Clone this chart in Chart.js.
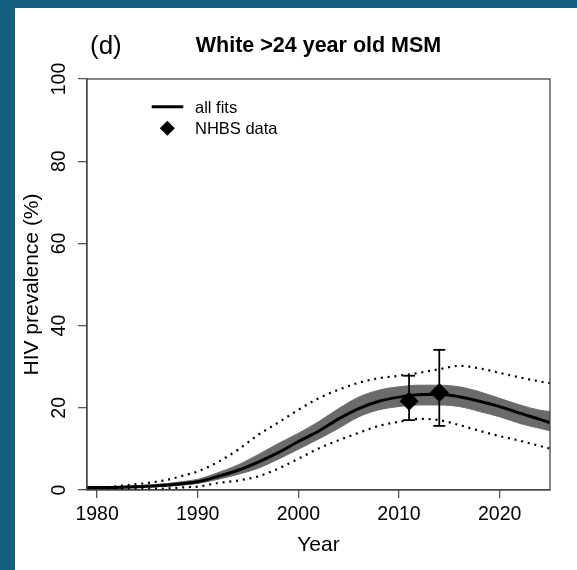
<!DOCTYPE html>
<html>
<head>
<meta charset="utf-8">
<title>White &gt;24 year old MSM</title>
<script src="https://cdn.jsdelivr.net/npm/chart.js@4.4.1/dist/chart.umd.min.js"></script>
<style>
  html, body { margin: 0; padding: 0; }
  body { background: #15607f; width: 577px; height: 570px; overflow: hidden; position: relative; }
  #panel { position: absolute; left: 15px; top: 8px; width: 562px; height: 562px; background: #fff; }
</style>
</head>
<body>
<div id="panel"><canvas id="prevChart" width="562" height="562"></canvas></div>
<script>
// model fit years and values (HIV prevalence, %)
const years      = [1979, 1981, 1983, 1985, 1987, 1989, 1990, 1992, 1994, 1996, 1998, 2000, 2002, 2004, 2006, 2008, 2010, 2012, 2014, 2016, 2018, 2020, 2022, 2024, 2025];
const fitMedian  = [0.6, 0.6, 0.7, 0.9, 1.2, 1.7, 2.0, 3.3, 4.8, 6.8, 9.1, 11.8, 14.3, 17.3, 19.8, 21.6, 22.6, 23.2, 23.3, 22.7, 21.6, 20.3, 18.7, 17.2, 16.4];
const bandUpper  = [0.8, 0.8, 0.9, 1.2, 1.6, 2.2, 2.6, 4.2, 6.1, 8.6, 11.3, 13.8, 16.6, 19.8, 22.6, 24.3, 25.1, 25.5, 25.5, 25.1, 23.9, 22.3, 20.7, 19.4, 19.1];
const bandLower  = [0.4, 0.4, 0.5, 0.7, 0.9, 1.3, 1.6, 2.6, 3.8, 5.3, 7.5, 9.9, 12.4, 15.0, 17.8, 19.5, 20.3, 20.7, 20.7, 20.3, 19.1, 17.8, 16.2, 15.0, 14.4];
const rangeUpper = [0.6, 0.7, 1.2, 1.7, 2.5, 3.8, 4.5, 6.8, 9.8, 13.4, 16.4, 19.5, 22.3, 24.4, 26.1, 27.2, 27.8, 28.5, 29.4, 30.2, 29.6, 28.5, 27.4, 26.4, 26.0];
const rangeLower = [0.2, 0.2, 0.2, 0.3, 0.4, 0.7, 0.8, 1.7, 2.3, 3.3, 5.2, 7.6, 10.1, 12.1, 13.9, 15.6, 16.6, 17.3, 17.0, 15.8, 14.4, 13.1, 12.0, 10.7, 10.1];

// NHBS survey points with error bars
const nhbsYears  = [2011, 2014];
const nhbsValues = [21.6, 23.7];
const nhbsLow    = [17.0, 15.6];
const nhbsHigh   = [27.8, 34.1];

const bandColor = '#6b6b6b';
const axisColor = '#555';
const fontFamily = '"Liberation Sans", Arial, sans-serif';

Chart.defaults.font.family = fontFamily;
Chart.defaults.color = '#000';

function toPoints(xs, ys) {
    return xs.map((x, i) => ({ x: x, y: ys[i] }));
}

const datasets = [];

datasets.push({
    label: 'NHBS data',
    data: toPoints(nhbsYears, nhbsValues),
    showLine: false,
    pointStyle: 'rectRot',
    pointRadius: 9,
    pointBackgroundColor: '#000',
    pointBorderColor: '#000',
    order: 0
});

for (let i = 0; i < nhbsYears.length; i++) {
    datasets.push({
        label: 'errbar',
        data: [{ x: nhbsYears[i], y: nhbsLow[i] }, { x: nhbsYears[i], y: nhbsHigh[i] }],
        borderColor: '#000',
        borderWidth: 1.8,
        pointStyle: 'line',
        pointRadius: 6,
        pointBorderWidth: 1.8,
        pointBorderColor: '#000',
        order: 1
    });
}

datasets.push({
    label: 'all fits',
    data: toPoints(years, fitMedian),
    borderColor: '#000',
    borderWidth: 3,
    pointRadius: 0,
    cubicInterpolationMode: 'monotone',
    order: 2
});

// band: upper fills down to the next dataset (lower)
datasets.push({
    label: 'band upper',
    data: toPoints(years, bandUpper),
    borderColor: bandColor,
    borderWidth: 1,
    backgroundColor: bandColor,
    pointRadius: 0,
    fill: '+1',
    cubicInterpolationMode: 'monotone',
    order: 4
});
datasets.push({
    label: 'band lower',
    data: toPoints(years, bandLower),
    borderColor: bandColor,
    borderWidth: 1,
    pointRadius: 0,
    fill: false,
    cubicInterpolationMode: 'monotone',
    order: 4
});

[rangeUpper, rangeLower].forEach(function (vals) {
    datasets.push({
        label: 'range',
        data: toPoints(years, vals),
        borderColor: '#000',
        borderWidth: 2.2,
        borderDash: [2, 4.8],
        borderCapStyle: 'butt',
        pointRadius: 0,
        fill: false,
        cubicInterpolationMode: 'monotone',
        order: 3
    });
});

// box, title, panel letter and legend drawn inside the plot
const decor = {
    id: 'decor',
    afterDraw: function (chart) {
        const ctx = chart.ctx;
        const a = chart.chartArea;
        ctx.save();
        ctx.strokeStyle = '#444';
        ctx.lineWidth = 1.3;
        ctx.strokeRect(a.left, a.top, a.right - a.left, a.bottom - a.top);

        ctx.fillStyle = '#000';
        ctx.textBaseline = 'alphabetic';
        ctx.textAlign = 'center';
        ctx.font = 'bold 21.5px ' + fontFamily;
        ctx.fillText('White >24 year old MSM', (a.left + a.right) / 2, 43.7);
        ctx.textAlign = 'left';
        ctx.font = '26px ' + fontFamily;
        ctx.fillText('(d)', 75, 46);

        // legend
        const lx = a.left + 64.7, ly = a.top + 27.7;
        ctx.lineWidth = 3;
        ctx.strokeStyle = '#000';
        ctx.beginPath();
        ctx.moveTo(lx, ly);
        ctx.lineTo(lx + 31.6, ly);
        ctx.stroke();
        const dx = lx + 15.6, dy = ly + 21.6, r = 7.5;
        ctx.beginPath();
        ctx.moveTo(dx, dy - r);
        ctx.lineTo(dx + r, dy);
        ctx.lineTo(dx, dy + r);
        ctx.lineTo(dx - r, dy);
        ctx.closePath();
        ctx.fill();
        ctx.font = '16.5px ' + fontFamily;
        ctx.textBaseline = 'middle';
        ctx.fillText(chart.data.datasets[nhbsYears.length + 1].label, lx + 43.3, ly + 1.3);
        ctx.fillText(chart.data.datasets[0].label, lx + 43.3, ly + 22.6);
        ctx.restore();
    }
};

const ctx = document.getElementById('prevChart').getContext('2d');
const prevChart = new Chart(ctx, {
    type: 'line',
    data: { datasets: datasets },
    plugins: [decor],
    options: {
        responsive: false,
        animation: false,
        devicePixelRatio: 1,
        layout: { padding: { left: 0, right: 27, top: 71, bottom: 0 } },
        plugins: {
            legend: { display: false },
            tooltip: { enabled: false },
            filler: { propagate: false }
        },
        scales: {
            x: {
                type: 'linear',
                min: 1979,
                max: 2025,
                ticks: {
                    stepSize: 10,
                    includeBounds: false,
                    autoSkip: false,
                    maxRotation: 0,
                    padding: 5,
                    font: { size: 19.5 },
                    color: '#000',
                    callback: function (v) { return String(v); }
                },
                grid: { drawOnChartArea: false, drawTicks: true, tickLength: 8, color: axisColor, lineWidth: 1.3 },
                border: { color: axisColor, width: 1.3 },
                title: { display: true, text: 'Year', font: { size: 21 }, color: '#000', padding: { top: 0, bottom: 12.4 } },
                afterFit: function (s) { s.height = 80; }
            },
            y: {
                type: 'linear',
                min: 0,
                max: 100,
                ticks: {
                    stepSize: 20,
                    minRotation: 90,
                    maxRotation: 90,
                    crossAlign: 'center',
                    padding: 2,
                    font: { size: 19.5 },
                    color: '#000'
                },
                grid: { drawOnChartArea: false, drawTicks: true, tickLength: 9, color: axisColor, lineWidth: 1.3 },
                border: { color: axisColor, width: 1.3 },
                title: { display: true, text: 'HIV prevalence (%)', font: { size: 21 }, color: '#000', padding: { top: 4.4, bottom: 0 } },
                afterFit: function (s) { s.width = 72; }
            }
        }
    }
});
</script>
</body>
</html>
